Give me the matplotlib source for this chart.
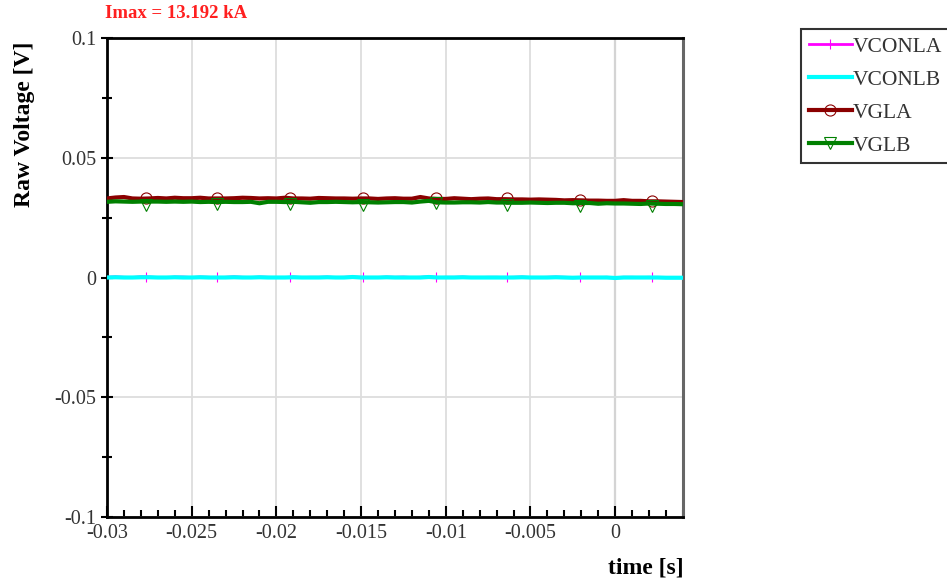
import numpy as np
import matplotlib.pyplot as plt
from matplotlib.ticker import MultipleLocator

# time axis, 0.5 ms steps from -30 ms to +4 ms
time = [round(-0.03 + 0.0005 * i, 4) for i in range(69)]

vgla = [0.0330, 0.0334, 0.0336, 0.0330, 0.0329, 0.0330, 0.0332, 0.0330, 0.0333, 0.0331,
        0.0331, 0.0333, 0.0330, 0.0330, 0.0330, 0.0331, 0.0333, 0.0332, 0.0330, 0.0331,
        0.0330, 0.0333, 0.0330, 0.0330, 0.0329, 0.0332, 0.0331, 0.0330, 0.0330, 0.0329,
        0.0330, 0.0330, 0.0328, 0.0330, 0.0331, 0.0329, 0.0329, 0.0336, 0.0330, 0.0328,
        0.0328, 0.0331, 0.0329, 0.0327, 0.0329, 0.0330, 0.0327, 0.0327, 0.0326, 0.0326,
        0.0325, 0.0326, 0.0325, 0.0324, 0.0322, 0.0323, 0.0322, 0.0321, 0.0321, 0.0320,
        0.0320, 0.0323, 0.0320, 0.0320, 0.0318, 0.0318, 0.0317, 0.0316, 0.0315]

vglb = [0.0316, 0.0318, 0.0317, 0.0316, 0.0317, 0.0317, 0.0317, 0.0316, 0.0317, 0.0316,
        0.0317, 0.0315, 0.0316, 0.0315, 0.0316, 0.0315, 0.0315, 0.0316, 0.0310, 0.0316,
        0.0316, 0.0315, 0.0316, 0.0314, 0.0312, 0.0315, 0.0315, 0.0316, 0.0315, 0.0314,
        0.0315, 0.0314, 0.0313, 0.0314, 0.0315, 0.0315, 0.0313, 0.0317, 0.0320, 0.0314,
        0.0313, 0.0313, 0.0314, 0.0314, 0.0313, 0.0315, 0.0313, 0.0313, 0.0312, 0.0312,
        0.0313, 0.0312, 0.0311, 0.0312, 0.0312, 0.0310, 0.0311, 0.0311, 0.0308, 0.0310,
        0.0309, 0.0309, 0.0308, 0.0307, 0.0309, 0.0308, 0.0307, 0.0307, 0.0306]

vconla = [0.0002, 0.0004, 0.0002, 0.0001, 0.0004, 0.0003, 0.0001, 0.0000, 0.0003, 0.0003,
          0.0001, 0.0003, 0.0002, 0.0000, 0.0002, 0.0004, 0.0002, 0.0001, 0.0003, 0.0002,
          0.0001, 0.0001, 0.0003, 0.0001, 0.0002, 0.0002, 0.0003, 0.0001, 0.0002, 0.0003,
          0.0002, 0.0001, 0.0001, 0.0003, 0.0002, 0.0003, 0.0001, 0.0002, 0.0004, 0.0001,
          0.0002, 0.0002, 0.0003, 0.0001, 0.0001, 0.0002, 0.0002, 0.0001, 0.0002, 0.0003,
          0.0001, 0.0001, 0.0002, 0.0003, 0.0002, 0.0001, 0.0000, 0.0001, 0.0001, 0.0002,
          0.0001, 0.0002, 0.0002, 0.0001, 0.0002, 0.0001, 0.0000, 0.0001, 0.0000]

vconlb = [0.0000, 0.0001, 0.0000, 0.0000, 0.0001, 0.0001, 0.0000, 0.0000, 0.0001, 0.0000,
          0.0000, 0.0001, 0.0000, 0.0000, 0.0000, 0.0001, 0.0000, 0.0000, 0.0001, 0.0000,
          0.0000, 0.0000, 0.0001, 0.0000, 0.0000, 0.0000, 0.0001, 0.0000, 0.0000, 0.0002,
          0.0000, 0.0000, 0.0000, 0.0001, 0.0000, 0.0000, 0.0000, 0.0000, 0.0002, 0.0000,
          0.0000, 0.0000, 0.0001, 0.0000, 0.0000, 0.0000, 0.0000, 0.0000, 0.0000, 0.0001,
          0.0000, 0.0000, 0.0000, 0.0001, 0.0000, -0.0001, 0.0000, 0.0000, 0.0000, 0.0000,
          -0.0002, 0.0000, 0.0000, 0.0000, 0.0000, 0.0000, -0.0001, -0.0001, -0.0001]

# marker positions (the scope samples every ~4.3 ms)
mark_t = [-0.0277, -0.0235, -0.0192, -0.0149, -0.0106, -0.0064, -0.0021, 0.0022]
vconla_mark = [0.0004, 0.0002, 0.0001, 0.0001, 0.0003, 0.0002, 0.0001, 0.0001]
vgla_mark = [0.0332, 0.0331, 0.0332, 0.0332, 0.0333, 0.0332, 0.0323, 0.0320]
vglb_mark = [0.0302, 0.0307, 0.0305, 0.0303, 0.0312, 0.0303, 0.0300, 0.0297]

plt.rcParams['font.family'] = ['Liberation Serif', 'DejaVu Serif']

fig = plt.figure(figsize=(9.47, 5.8), dpi=100)
ax = fig.add_axes([0.113, 0.1086, 0.6085, 0.8259])

ax.plot(time, vconla, color='#ff00ff', lw=1.6, zorder=3)
ax.plot(mark_t, vconla_mark, ls='none', marker='+', ms=7, mew=0.8, color='#ff00ff', zorder=3)
ax.plot(time, vconlb, color='#00ffff', lw=3, zorder=4)
ax.plot(time, vgla, color='#8b0000', lw=3, zorder=5)
ax.plot(mark_t, vgla_mark, ls='none', marker='o', ms=8, mfc='none', mec='#8b0000', mew=0.8, zorder=5)
ax.plot(time, vglb, color='#008000', lw=3, zorder=6)
ax.plot(mark_t, vglb_mark, ls='none', marker='v', ms=9, mfc='none', mec='#008000', mew=0.8, zorder=6)

# legend proxies
h1, = ax.plot([], [], color='#ff00ff', lw=2, marker='+', ms=7, mew=0.8)
h2, = ax.plot([], [], color='#00ffff', lw=3)
h3, = ax.plot([], [], color='#8b0000', lw=3, marker='o', ms=8, mfc='none', mew=0.8)
h4, = ax.plot([], [], color='#008000', lw=3, marker='v', ms=9, mfc='none', mew=0.8)
leg = fig.legend([h1, h2, h3, h4], ['VCONLA', 'VCONLB', 'VGLA', 'VGLB'],
                 loc='upper left', bbox_to_anchor=(0.846, 0.95), fontsize=15.5,
                 frameon=True, fancybox=False, edgecolor='black', handlelength=2.0,
                 handletextpad=0.05, borderpad=0.35, labelspacing=0.6, borderaxespad=0)
leg.get_frame().set_linewidth(1.5)
for t in leg.get_texts():
    t.set_color('#333333')

ax.set_xlim(-0.03, 0.00402)
ax.set_ylim(-0.1, 0.1)
ax.xaxis.set_major_locator(MultipleLocator(0.005))
ax.xaxis.set_minor_locator(MultipleLocator(0.001))
ax.yaxis.set_major_locator(MultipleLocator(0.05))
ax.yaxis.set_minor_locator(MultipleLocator(0.025))
ax.xaxis.set_major_formatter(plt.FuncFormatter(lambda v, p: '0' if abs(v) < 1e-9 else ('%g' % v)))
ax.yaxis.set_major_formatter(plt.FuncFormatter(lambda v, p: '0' if abs(v) < 1e-9 else ('%g' % v)))

ax.tick_params(axis='x', which='major', direction='in', length=8, width=1.5, labelsize=14.5,
               labelcolor='#333333', pad=5, top=False)
ax.tick_params(axis='x', which='minor', direction='in', length=5, width=1.5, top=False)
ax.tick_params(axis='y', which='major', direction='inout', length=9, width=1.5, labelsize=14.5,
               labelcolor='#333333', pad=3, right=False)
ax.tick_params(axis='y', which='minor', direction='inout', length=7, width=1.5, right=False)

ax.grid(True, which='major', color='#dddddd', lw=1.3, zorder=0)
ax.axvline(0, color='#888888', lw=1.5, zorder=1)

for s in ['left', 'bottom', 'top']:
    ax.spines[s].set_linewidth(2)
    ax.spines[s].set_color('black')
ax.spines['right'].set_linewidth(2.2)
ax.spines['right'].set_color('#666666')

ax.set_ylabel('Raw Voltage [V]', fontsize=17, fontweight='bold')
ax.yaxis.set_label_coords(-0.125, 0.82)
ax.set_xlabel('time [s]', fontsize=17, fontweight='bold')
ax.xaxis.set_label_coords(1.0, -0.085)
ax.xaxis.label.set_horizontalalignment('right')

fig.text(0.111, 0.977, 'Imax = 13.192 kA', color='#ff2020', fontsize=13.5,
         fontweight='bold', ha='left', va='center')

fig.savefig('out.png', dpi=100)
